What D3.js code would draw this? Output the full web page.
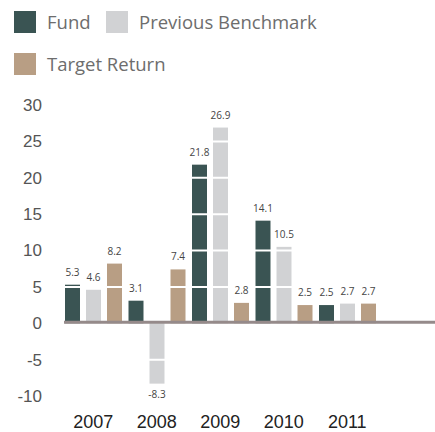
<!DOCTYPE html>
<html>
  <head>
    <meta charset="utf-8">
    <title>Fund returns</title>
    <script src="https://cdn.jsdelivr.net/npm/d3@7"></script>
    <style>
      body { margin: 0; background: #fff; }
      svg { display: block; }
      .legend text { font-family: "Open Sans", sans-serif; font-size: 18.5px; fill: #6d6d6d; }
      .axis text { font-family: "Liberation Sans", Arial, sans-serif; }
      .axis.y text { font-size: 17px; fill: #555; }
      .axis.x text { font-size: 18px; fill: #222; }
      .value { font-family: "Open Sans", sans-serif; font-size: 10px; fill: #444; }
    </style>
  </head>

  <body>
    <div id="container"></div>

    <script>
      // data
      years = ["2007", "2008", "2009", "2010", "2011"];
      series = ["Fund", "Previous Benchmark", "Target Return"];
      fund = [5.3, 3.1, 21.8, 14.1, 2.5];
      benchmark = [4.6, -8.3, 26.9, 10.5, 2.7];
      target = [8.2, 7.4, 2.8, 2.5, 2.7];
      yTicks = [-10, -5, 0, 5, 10, 15, 20, 25, 30];
      colours = ["#3a5453", "#d1d2d4", "#b89e84"];

      width = 435;
      height = 432;

      chartData = years.map((y, i) => ({
        year: y,
        values: [fund[i], benchmark[i], target[i]]
      }));

      svg = d3.select("#container").append("svg")
        .attr("width", width)
        .attr("height", height);

      // scales
      xScale = d3.scaleBand()
        .domain(years)
        .range([61.5, 379])
        .padding(0);
      inner = d3.scaleBand()
        .domain(series)
        .range([3.5, xScale.bandwidth() - 3])
        .paddingInner(0.286)
        .paddingOuter(0);
      yScale = d3.scaleLinear()
        .domain([-10, 30])
        .range([396, 105]);

      // legend
      legendItems = [
        {name: series[0], colour: colours[0], x: 14, y: 11},
        {name: series[1], colour: colours[1], x: 106, y: 11},
        {name: series[2], colour: colours[2], x: 14, y: 53}
      ];
      legend = svg.append("g").classed("legend", true)
        .selectAll("g")
          .data(legendItems)
        .enter().append("g")
          .attr("transform", d => "translate(" + d.x + ", " + d.y + ")");
      legend.append("rect")
        .attr("width", 22)
        .attr("height", 22)
        .style("fill", d => d.colour);
      legend.append("text")
        .attr("x", 33)
        .attr("y", 17.5)
        .text(d => d.name);

      // y axis labels
      svg.append("g")
        .classed("axis y", true)
        .attr("transform", "translate(42, 0)")
        .call(d3.axisLeft(yScale)
          .tickValues(yTicks)
          .tickFormat(d => String(d))
          .tickSize(0)
          .tickPadding(0)
        )
        .call(g => g.select(".domain").remove());

      // bars
      groups = svg.append("g")
        .selectAll("g")
          .data(chartData)
        .enter().append("g")
          .attr("transform", d => "translate(" + xScale(d.year) + ", 0)");

      groups.selectAll("rect")
        .data(d => d.values.map((v, i) => ({key: series[i], value: v, i: i})))
        .enter().append("rect")
          .attr("x", d => inner(d.key))
          .attr("width", inner.bandwidth())
          .attr("y", d => yScale(Math.max(0, d.value)))
          .attr("height", d => Math.abs(yScale(d.value) - yScale(0)))
          .style("fill", d => colours[d.i]);

      // white gridlines over the bars
      svg.append("g")
        .selectAll("line")
          .data(yTicks.filter(t => t != 0))
        .enter().append("line")
          .attr("x1", 64)
          .attr("x2", width)
          .attr("y1", d => yScale(d))
          .attr("y2", d => yScale(d))
          .style("stroke", "#fff")
          .style("stroke-width", 2);

      // value labels (above the gridlines)
      labels = svg.append("g")
        .selectAll("g")
          .data(chartData)
        .enter().append("g")
          .attr("transform", d => "translate(" + xScale(d.year) + ", 0)");

      labels.selectAll("text")
        .data(d => d.values.map((v, i) => ({key: series[i], value: v})))
        .enter().append("text")
          .classed("value", true)
          .attr("x", d => inner(d.key) + inner.bandwidth() / 2)
          .attr("y", d => d.value >= 0 ? yScale(d.value) - 9 : yScale(d.value) + 14)
          .attr("text-anchor", "middle")
          .text(d => d.value);

      // zero line
      svg.append("line")
        .attr("x1", 64)
        .attr("x2", width)
        .attr("y1", yScale(0) - 1)
        .attr("y2", yScale(0) - 1)
        .style("stroke", "#958a8a")
        .style("stroke-width", 3);

      // year labels
      svg.append("g")
        .classed("axis x", true)
        .attr("transform", "translate(0, 415)")
        .call(d3.axisBottom(xScale)
          .tickSize(0)
          .tickPadding(0)
        )
        .call(g => g.select(".domain").remove());
    </script>
  </body>
</html>
